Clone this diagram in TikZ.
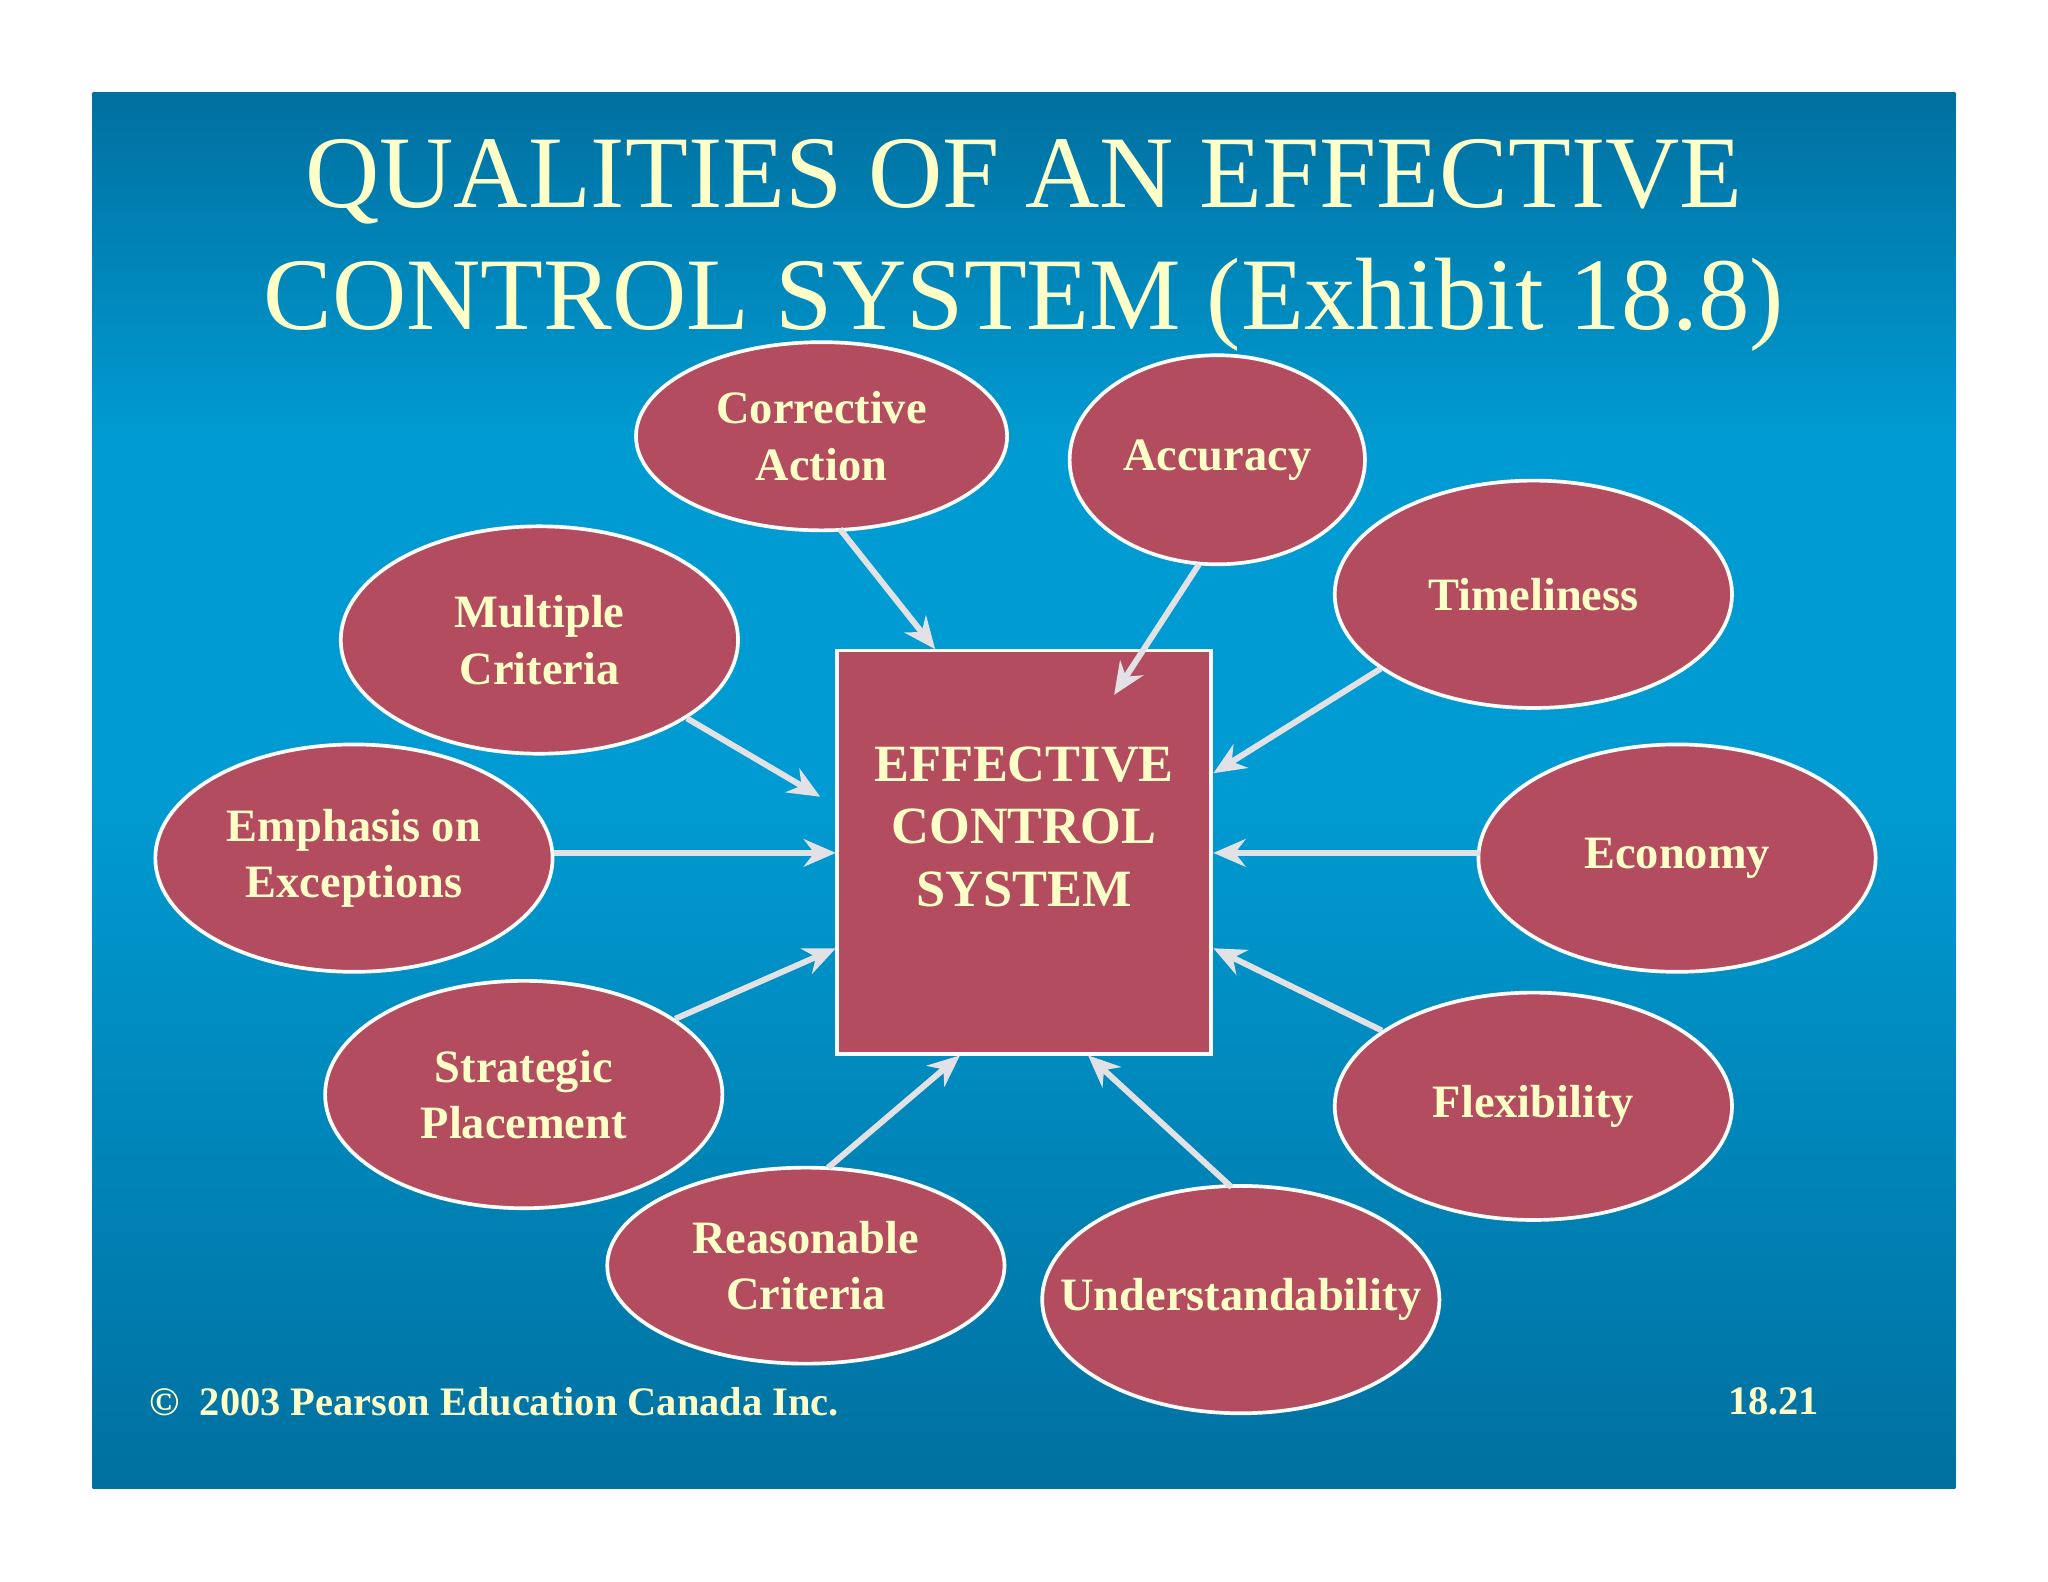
\documentclass[tikz,border=0pt]{standalone}
\usepackage{fontspec}
\setmainfont{Liberation Serif}
\usetikzlibrary{shapes.geometric,arrows.meta}
\definecolor{cream}{RGB}{255,255,200}
\definecolor{rose}{RGB}{180,76,96}
\definecolor{bluedark}{RGB}{0,112,160}
\definecolor{bluelight}{RGB}{0,155,210}
\tikzset{
 oval/.style={ellipse,draw=white,line width=0.8pt,fill=rose,text=cream,font=\fontsize{10.1}{12.3}\selectfont\bfseries,align=center,inner sep=0pt},
 conn/.style={draw={rgb,255:red,225;green,225;blue,230},line width=1.3pt,-{Stealth[length=7pt,width=6pt]}}
}
\begin{document}
\begin{tikzpicture}[x=0.01cm,y=-0.01cm]
\useasboundingbox (0,0) rectangle (1568,1211);
\fill[white] (0,0) rectangle (1568,1211);
\shade[top color=bluedark,bottom color=bluelight,middle color=bluelight] (71,71) rectangle (1497,606);
\shade[top color=bluelight,bottom color=bluedark] (71,605) rectangle (1497,1140);
\node[text=cream,font=\fontsize{22.4}{26.5}\selectfont,align=center] (title) at (784,188) {QUALITIES OF AN EFFECTIVE\\CONTROL SYSTEM (Exhibit 18.8)};
\node[draw=white,line width=0.8pt,fill=rose,minimum width=2.86cm,minimum height=3.09cm,inner sep=0pt] (box) at (784,652.5) {};
\node[text=cream,font=\fontsize{11.4}{13.6}\selectfont\bfseries,align=center] (boxt) at (784,633) {EFFECTIVE\\CONTROL\\SYSTEM};
\node[oval,minimum width=2.84cm,minimum height=1.44cm] (ca) at (629,334) {Corrective\\Action};
\node[oval,minimum width=2.26cm,minimum height=1.6cm] (ac) at (932,352) {Accuracy};
\node[oval,minimum width=3.04cm,minimum height=1.74cm] (ti) at (1174,455) {Timeliness};
\node[oval,minimum width=3.04cm,minimum height=1.74cm] (mc) at (413,490) {Multiple\\Criteria};
\node[oval,minimum width=3.04cm,minimum height=1.74cm] (em) at (271,657) {Emphasis on\\Exceptions};
\node[oval,minimum width=3.04cm,minimum height=1.74cm] (ec) at (1284,657) {Economy};
\node[oval,minimum width=3.04cm,minimum height=1.74cm] (sp) at (401,838) {Strategic\\Placement};
\node[oval,minimum width=3.04cm,minimum height=1.74cm] (fl) at (1174,847) {Flexibility};
\node[oval,minimum width=3.04cm,minimum height=1.5cm] (rc) at (617,969) {Reasonable\\Criteria};
\node[oval,minimum width=3.04cm,minimum height=1.74cm,inner xsep=-10pt] (un) at (950,995) {Understandability};
\coordinate (t1) at (716,497); \coordinate (t2) at (853,532); \coordinate (t3) at (929,592);
\coordinate (t4) at (628,610); \coordinate (t5) at (640,653); \coordinate (t6) at (929,653);
\coordinate (t7) at (640,726); \coordinate (t8) at (929,726); \coordinate (t9) at (735,808);
\coordinate (t10) at (833,808);
\draw[conn] (643,405) coordinate (s1) -- (t1);
\draw[conn] (918,432) coordinate (s2) -- (t2);
\draw[conn] (1057,512) coordinate (s3) -- (t3);
\draw[conn] (526,550) coordinate (s4) -- (t4);
\draw[conn] (424,653) coordinate (s5) -- (t5);
\draw[conn] (1133,653) coordinate (s6) -- (t6);
\draw[conn] (517,780) coordinate (s7) -- (t7);
\draw[conn] (1058,789) coordinate (s8) -- (t8);
\draw[conn] (634,894) coordinate (s9) -- (t9);
\draw[conn] (943,909) coordinate (s10) -- (t10);
\node[text=cream,font=\fontsize{8.8}{10}\selectfont\bfseries,anchor=west] (copy) at (102,1073) {©\ \ 2003 Pearson Education Canada Inc.};
\node[text=cream,font=\fontsize{8.8}{10}\selectfont\bfseries] (pg) at (1358,1073) {18.21};
\end{tikzpicture}
\end{document}
